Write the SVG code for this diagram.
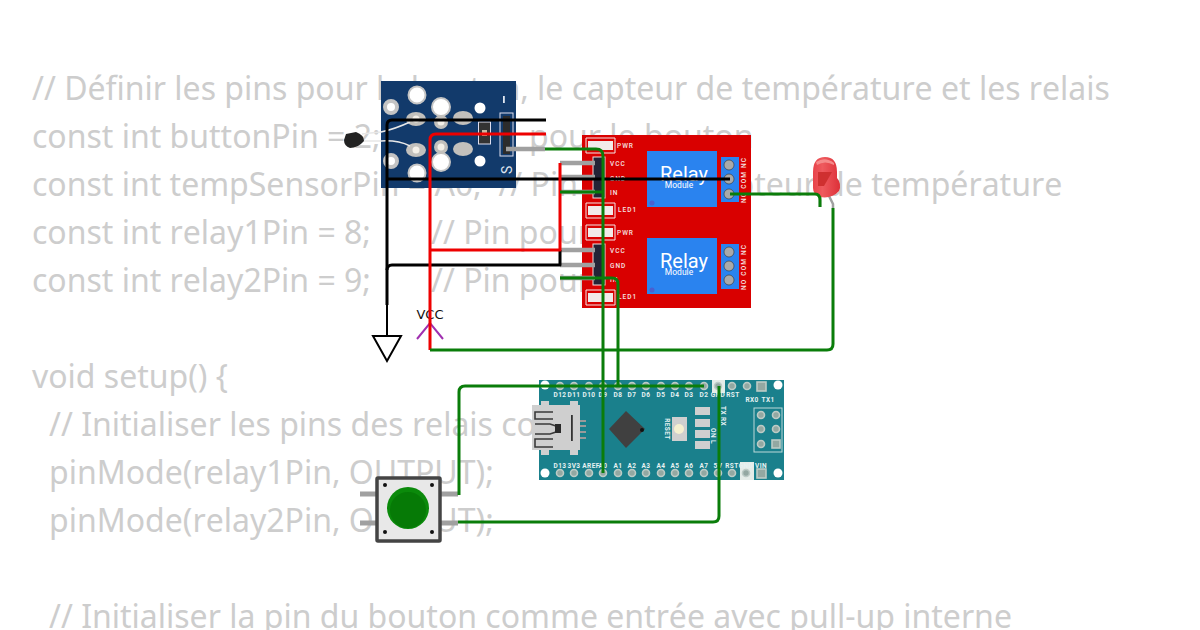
<svg xmlns="http://www.w3.org/2000/svg" width="1200" height="630" viewBox="0 0 1200 630">
<style>
.code{font-family:"Noto Sans","Open Sans",sans-serif;font-size:32px;fill:#cdcdcd;white-space:pre;font-kerning:none}
.w{fill:none;stroke-width:3;stroke-linejoin:round;stroke-linecap:butt}
.g{stroke:#0a7d0a}.r{stroke:#ee0000}.k{stroke:#000}
.stub{stroke:#a0a0a0;stroke-width:4.5;fill:none}
.sl{font-family:"Roboto","Liberation Sans",sans-serif;font-weight:500;font-size:6.5px;fill:#f4e4e4;letter-spacing:1px}
.nl{font-family:"Roboto","Liberation Sans",sans-serif;font-weight:700;font-size:6.5px;fill:#e6f2f2;letter-spacing:.4px}
.pin{fill:#93a8a2;stroke:#bccbc6;stroke-width:1.6}
.tp{fill:#a9a9a9;stroke:#333;stroke-width:.6}
.hole{fill:#fff}
.bl{fill:#2a83ef}
.outl{fill:none;stroke:#f4e6e6;stroke-width:1}
</style>
<defs>
<linearGradient id="ledg" x1="0" y1="0" x2="1" y2="0"><stop offset="0" stop-color="#e8434a"/><stop offset=".35" stop-color="#ee5a5e"/><stop offset="1" stop-color="#dd3038"/></linearGradient>
</defs>
<rect width="1200" height="630" fill="#fff"/>
<g id="code">
<text class="code" x="32" y="100">// Définir les pins pour le bouton, le capteur de température et les relais</text>
<text class="code" x="32" y="148">const int buttonPin = 2;</text>
<text class="code" x="529" y="148">pour le bouton</text>
<text class="code" x="32" y="196">const int tempSensorPin = A0;  // Pin pour le capteur de température</text>
<text class="code" x="32" y="244">const int relay1Pin = 8;</text>
<text class="code" x="431" y="244">// Pin pour</text>
<text class="code" x="32" y="292">const int relay2Pin = 9;</text>
<text class="code" x="431" y="292">// Pin pour</text>
<text class="code" x="32" y="388">void setup() {</text>
<text class="code" x="49" y="436">// Initialiser les pins des relais comme</text>
<text class="code" x="49" y="484">pinMode(relay1Pin, OUTPUT);</text>
<text class="code" x="49" y="532">pinMode(relay2Pin, OUTPUT);</text>
<text class="code" x="49" y="628">// Initialiser la pin du bouton comme entrée avec pull-up interne</text>
</g>
<g id="sensor">
<rect x="381" y="81" width="135" height="107" fill="#123a6b"/>
<g fill="#fff" stroke="#c4c4c4" stroke-width="2">
<circle cx="417" cy="95" r="8.500"/><circle cx="441" cy="107" r="9"/><circle cx="441" cy="162" r="9"/><circle cx="417" cy="173" r="8.500"/>
</g>
<g fill="#fff" stroke="#c4c4c4" stroke-width="4"><circle cx="391" cy="107" r="6"/><circle cx="391" cy="161" r="6"/></g>
<g fill="#c2c0bc"><ellipse cx="416" cy="119" rx="10" ry="7"/><ellipse cx="416" cy="150" rx="10" ry="7"/><ellipse cx="463" cy="118" rx="10" ry="7"/><ellipse cx="463" cy="149" rx="10" ry="7"/><circle cx="441" cy="122" r="7"/><circle cx="441" cy="147" r="7"/></g>
<g fill="#f4f0e8"><circle cx="416" cy="119" r="3.500"/><circle cx="416" cy="150" r="3.500"/><circle cx="441" cy="122" r="3.500"/><circle cx="441" cy="147" r="3.500"/></g>
<circle class="hole" cx="480" cy="108" r="5.500"/><circle class="hole" cx="480" cy="161" r="5.500"/>
<rect x="478.500" y="122" width="12" height="22" fill="#333" stroke="#dde" stroke-width="1"/>
<rect x="482" y="130" width="5" height="6" fill="#c9b9a0"/>
<rect x="500" y="113" width="13" height="43" fill="none" stroke="#dde" stroke-width="1"/>
<rect x="503" y="116" width="7" height="38" fill="#2c2c2c"/>
<text transform="translate(512,174) rotate(-90)" font-family="Roboto,'Liberation Sans',sans-serif" font-size="14" fill="#dfe6f0">S</text>
<rect x="503" y="96" width="1.800" height="7" fill="#dfe6f0"/>
<path d="M410 122Q395 129 381 132Q370 133 362 134" fill="none" stroke="#e8e8e8" stroke-width="1.500"/>
<path d="M410 146Q398 140 381 141Q370 141 362 141" fill="none" stroke="#e8e8e8" stroke-width="1.500"/>
<path d="M346 134L356 132Q364 135 364 141Q358 148 350 148Q344 146 344 140Z" fill="#222"/>
<path class="stub" d="M506 149H545"/>
</g>
<g id="relay">
<rect x="582" y="135" width="169" height="173" fill="#d90000"/>
<g class="outl">
<path d="M586 138H615V153H586Z"/><path d="M586 203H615V218H586Z"/><path d="M586 225H615V240H586Z"/><path d="M586 290H615V305H586Z"/>
</g>
<g fill="#f2eaea"><rect x="588" y="141" width="25" height="9"/><rect x="588" y="206" width="25" height="9"/><rect x="588" y="228" width="25" height="9"/><rect x="588" y="293" width="25" height="9"/></g>
<rect x="593" y="157" width="12" height="41" fill="#232336" stroke="#f0e0e0"/>
<rect x="593" y="244" width="12" height="41" fill="#232336" stroke="#f0e0e0"/>
<text class="sl" x="617" y="148">PWR</text><text class="sl" x="610" y="166">VCC</text><text class="sl" x="610" y="181">GND</text><text class="sl" x="610" y="195">IN</text><text class="sl" x="618" y="212">LED1</text>
<text class="sl" x="617" y="235">PWR</text><text class="sl" x="610" y="253">VCC</text><text class="sl" x="610" y="268">GND</text><text class="sl" x="610" y="282">IN</text><text class="sl" x="618" y="299">LED1</text>
<rect class="bl" x="647" y="151" width="70" height="56"/><rect class="bl" x="647" y="238" width="70" height="56"/>
<g font-family="Roboto,'Liberation Sans',sans-serif" fill="#fff" text-anchor="middle"><text x="684" y="181" font-size="20">Relay</text><text x="679" y="188" font-size="8.500">Module</text><text x="684" y="268" font-size="20">Relay</text><text x="679" y="275" font-size="8.500">Module</text></g>
<circle cx="652" cy="203" r="2.500" fill="#4a5fd0"/><circle cx="652" cy="290" r="2.500" fill="#4a5fd0"/>
<rect class="bl" x="721" y="157" width="18" height="45"/><rect class="bl" x="721" y="244" width="18" height="45"/>
<g class="tp"><circle cx="729" cy="165" r="5"/><circle cx="729" cy="179" r="5"/><circle cx="729" cy="194" r="5"/><circle cx="729" cy="252" r="5"/><circle cx="729" cy="266" r="5"/><circle cx="729" cy="280" r="5"/></g>
<g class="sl"><text transform="translate(746,203) rotate(-90)" textLength="46">NO COM NC</text><text transform="translate(746,290) rotate(-90)" textLength="46">NO COM NC</text></g>
<g class="stub"><path d="M560 163H595M560 177H595M560 192H595M560 250H595M560 265H595M560 278H595"/></g>
</g>
<g id="led">
<path class="stub" style="stroke-width:2.500" d="M820 196V207M829 196L833 204V208"/>
<path d="M813 172Q813 157 825 157Q837 157 837 172V178Q842 184 839 191Q832 199 820 197Q813 194 813 188Z" fill="url(#ledg)"/>
<path d="M818 172L832 172L824 186H818Z" fill="#cf3030"/>
<path d="M816 162Q825 156 834 163L834 165Q825 160 817 165Z" fill="#f58a8a"/>
</g>
<g id="nano">
<rect x="539" y="380" width="245" height="100" fill="#1a808c"/>
<g fill="#fff"><circle cx="545" cy="385" r="4.500"/><circle cx="778" cy="385" r="4.500"/><circle cx="545" cy="473" r="4.500"/><circle cx="778" cy="473" r="4.500"/></g>
<rect x="712" y="380" width="13" height="13" fill="#e4ece8"/><rect x="740" y="462" width="14" height="18" fill="#e4ece8"/>
<g class="pin"><circle cx="560" cy="386" r="3.500"/><circle cx="574" cy="386" r="3.500"/><circle cx="589" cy="386" r="3.500"/><circle cx="603" cy="386" r="3.500"/><circle cx="618" cy="386" r="3.500"/><circle cx="632" cy="386" r="3.500"/><circle cx="646" cy="386" r="3.500"/><circle cx="661" cy="386" r="3.500"/><circle cx="675" cy="386" r="3.500"/><circle cx="689" cy="386" r="3.500"/><circle cx="704" cy="386" r="3.500"/><circle cx="718" cy="386" r="3.500"/><circle cx="732" cy="386" r="3.500"/><circle cx="747" cy="386" r="3.500"/>
<circle cx="560" cy="473" r="3.500"/><circle cx="574" cy="473" r="3.500"/><circle cx="589" cy="473" r="3.500"/><circle cx="603" cy="473" r="3.500"/><circle cx="618" cy="473" r="3.500"/><circle cx="632" cy="473" r="3.500"/><circle cx="646" cy="473" r="3.500"/><circle cx="661" cy="473" r="3.500"/><circle cx="675" cy="473" r="3.500"/><circle cx="689" cy="473" r="3.500"/><circle cx="704" cy="473" r="3.500"/><circle cx="718" cy="473" r="3.500"/><circle cx="732" cy="473" r="3.500"/><circle cx="746" cy="473" r="3.500"/>
<rect x="757" y="382" width="9" height="9"/><rect x="757" y="469" width="9" height="9"/></g>
<g class="nl" text-anchor="middle"><text x="560" y="397">D12</text><text x="574" y="397">D11</text><text x="589" y="397">D10</text><text x="603" y="397">D9</text><text x="618" y="397">D8</text><text x="632" y="397">D7</text><text x="646" y="397">D6</text><text x="661" y="397">D5</text><text x="675" y="397">D4</text><text x="689" y="397">D3</text><text x="704" y="397">D2</text><text x="718" y="397">GND</text><text x="733" y="397">RST</text><text x="752" y="402">RX0</text><text x="768" y="402">TX1</text>
<text x="560" y="468">D13</text><text x="574" y="468">3V3</text><text x="591" y="468">AREF</text><text x="603" y="468">A0</text><text x="618" y="468">A1</text><text x="632" y="468">A2</text><text x="646" y="468">A3</text><text x="661" y="468">A4</text><text x="675" y="468">A5</text><text x="689" y="468">A6</text><text x="704" y="468">A7</text><text x="718" y="468">5V</text><text x="732" y="468">RST</text><text x="746" y="468">GND</text><text x="761" y="468">VIN</text>
<text transform="translate(665,429) rotate(90)">RESET</text><text transform="translate(721,416) rotate(90)">TX RX</text><text transform="translate(711,436) rotate(90)">ON L</text></g>
<rect x="754" y="408" width="28" height="44" fill="none" stroke="#bcd8d8"/>
<g class="pin"><circle cx="761" cy="415" r="3.500"/><circle cx="776" cy="415" r="3.500"/><circle cx="761" cy="429" r="3.500"/><circle cx="776" cy="429" r="3.500"/><circle cx="761" cy="444" r="3.500"/><rect x="772" y="440" width="8" height="8"/></g>
<path d="M532 405H541V401H549V405H570V401H578V405H580V450H578V455H570V450H549V455H541V450H532Z" fill="#cfcfcf"/>
<rect x="580" y="420" width="6" height="2" fill="#9a9a9a"/><rect x="580" y="425" width="6" height="2" fill="#9a9a9a"/><rect x="580" y="431" width="6" height="2" fill="#9a9a9a"/><rect x="580" y="437" width="6" height="2" fill="#9a9a9a"/>
<path d="M553 419H535V412H553M553 439H535V447H553M535 424H550L556 426M535 434H550L556 432" fill="none" stroke="#3a3a3a" stroke-width="1.600"/>
<rect x="555" y="424" width="6" height="9" fill="#2a2a2a"/>
<rect x="571" y="415" width="1.800" height="26" fill="#333"/>
<path d="M609 429L626 411L645 429L626 448Z" fill="#404040"/><circle cx="642" cy="430" r="2" fill="#111"/>
<rect x="672" y="417" width="15" height="24" fill="#cfcfcf"/><circle cx="679" cy="429" r="5" fill="#f5f0d0"/>
<g fill="#cfcfcf"><rect x="695" y="407" width="15" height="8"/><rect x="695" y="419" width="15" height="8"/><rect x="695" y="430" width="15" height="8"/><rect x="695" y="441" width="15" height="8"/></g>
</g>
<g id="button">
<path class="stub" style="stroke-width:5" d="M360 494H376M360 523H376M441 494H458M441 523H458"/>
<rect x="377" y="478" width="63" height="63" fill="#e8e8e8" stroke="#444" stroke-width="3.500" rx="1"/>
<g fill="#111"><circle cx="385" cy="485" r="2"/><circle cx="432" cy="485" r="2"/><circle cx="385" cy="532" r="2"/><circle cx="432" cy="532" r="2"/></g>
<circle cx="408" cy="508" r="21" fill="#0b8a0b"/><circle cx="408" cy="510" r="18" fill="#067a06"/>
</g>
<g id="ground">
<path d="M387 336V302" stroke="#000" stroke-width="2" fill="none"/>
<path d="M373 336H401L387 361Z" fill="#fff" stroke="#000" stroke-width="2"/>
</g>
<g id="vcc">
<path d="M417 339L430 323L443 339" fill="none" stroke="#a030b0" stroke-width="2"/>
<text x="430" y="319" text-anchor="middle" font-family="'DejaVu Sans',sans-serif" font-size="13" fill="#111">VCC</text>
</g>
<g id="connectors">
<path class="w k" d="M546 120H392Q387 120 387 125V305"/>
<path class="w k" d="M387 179H730"/>
<path class="w k" d="M387 270Q387 265 392 265H560V250"/>
<path class="w r" d="M546 134H436Q430 134 430 140V350"/>
<path class="w r" d="M430 250H560V163"/>
<path class="w g" d="M545 149H596Q603 149 603 156V473"/>
<path class="w g" d="M560 192H603"/>
<path class="w g" d="M560 278H612Q618 278 618 284V386"/>
<path class="w g" d="M704 386H465Q459 386 459 392V495"/>
<path class="w g" d="M458 522H713Q719 522 719 516V386"/>
<path class="w g" d="M730 194H815Q820 194 820 200V207"/>
<path class="w g" d="M833 208V344Q833 350 827 350H430"/>
</g>
</svg>
